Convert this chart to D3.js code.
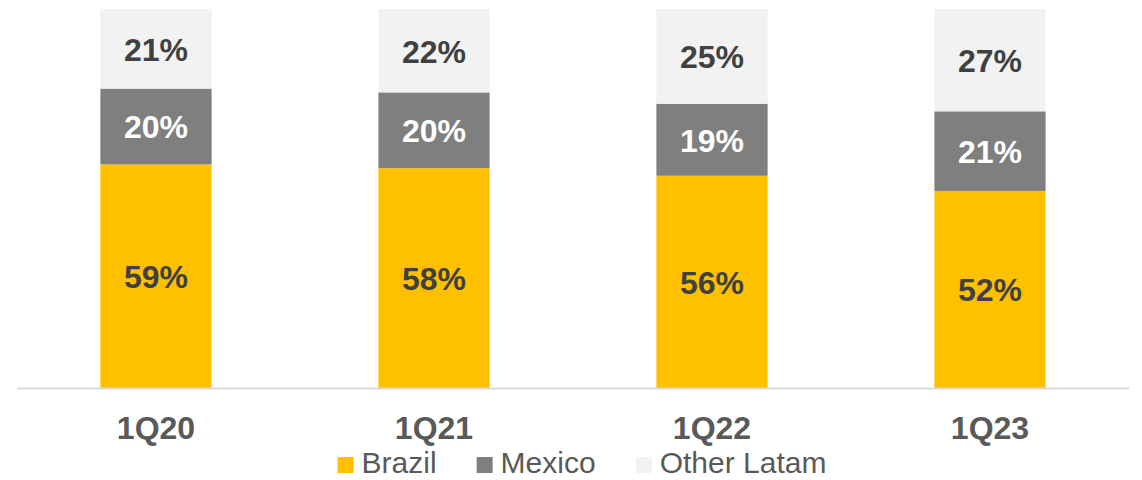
<!DOCTYPE html>
<html>
<head>
<meta charset="utf-8">
<script src="https://cdn.jsdelivr.net/npm/d3@7"></script>
<style>
  html, body { margin: 0; padding: 0; background: #ffffff; }
  svg { display: block; font-family: Arial, "Liberation Sans", sans-serif; }
</style>
</head>
<body>
<svg id="chart" width="1142" height="480"></svg>
<script>
// Revenue mix by region, share of total (%)
const quarters = ["1Q20", "1Q21", "1Q22", "1Q23"];
const brazil = [59, 58, 56, 52];
const mexico = [20, 20, 19, 21];
const otherLatam = [21, 22, 25, 27];

const seriesNames = ["Brazil", "Mexico", "Other Latam"];
const seriesColors = ["#FFC000", "#7F7F7F", "#F2F2F2"];
const labelColors = ["#404040", "#FFFFFF", "#404040"];

const svg = d3.select("#chart");
const margin = { left: 17, right: 13, top: 9, bottom: 92 };
const W = 1142, H = 480;

const rows = quarters.map((q, i) => ({
  quarter: q,
  "Brazil": brazil[i],
  "Mexico": mexico[i],
  "Other Latam": otherLatam[i]
}));

const stacked = d3.stack().keys(seriesNames)(rows);

const x = d3.scaleBand()
  .domain(quarters)
  .range([margin.left, W - margin.right])
  .paddingInner(0.6)
  .paddingOuter(0.3);

const y = d3.scaleLinear()
  .domain([0, 100])
  .range([H - margin.bottom, margin.top]);

// stacked segments
const layers = svg.append("g")
  .selectAll("g")
  .data(stacked)
  .join("g")
  .attr("fill", (d, i) => seriesColors[i]);

layers.selectAll("rect")
  .data(d => d)
  .join("rect")
  .attr("x", d => x(d.data.quarter))
  .attr("width", x.bandwidth())
  .attr("y", d => y(d[1]))
  .attr("height", d => y(d[0]) - y(d[1]));

// value labels centred in each segment
svg.append("g")
  .selectAll("g")
  .data(stacked)
  .join("g")
  .attr("fill", (d, i) => labelColors[i])
  .selectAll("text")
  .data(d => d)
  .join("text")
  .attr("x", d => x(d.data.quarter) + x.bandwidth() / 2)
  .attr("y", d => (y(d[0]) + y(d[1])) / 2 + 12)
  .attr("text-anchor", "middle")
  .style("font-size", "32px")
  .style("font-weight", "bold")
  .text(d => (d[1] - d[0]) + "%");

// category axis
const xAxis = svg.append("g")
  .attr("transform", `translate(0,${H - margin.bottom})`)
  .call(d3.axisBottom(x).tickSize(0).tickPadding(0));
xAxis.select(".domain")
  .attr("stroke", "#D9D9D9")
  .attr("stroke-width", 2);
xAxis.selectAll(".tick text")
  .attr("dy", null)
  .attr("y", 51)
  .attr("fill", "#595959")
  .style("font-family", "Arial, 'Liberation Sans', sans-serif")
  .style("font-size", "32px")
  .style("font-weight", "bold");

// legend
const legend = svg.append("g").attr("class", "legend");
let cursor = 0;
seriesNames.forEach((name, i) => {
  const item = legend.append("g").attr("transform", `translate(${cursor},0)`);
  item.append("rect")
    .attr("x", 0).attr("y", -16)
    .attr("width", 16).attr("height", 16)
    .attr("fill", seriesColors[i]);
  const t = item.append("text")
    .attr("x", 24).attr("y", 0)
    .attr("fill", "#595959")
    .style("font-size", "30px")
    .text(name);
  cursor += 24 + t.node().getComputedTextLength() + 40;
});
const bbox = legend.node().getBBox();
legend.attr("transform", `translate(${582 - (bbox.x + bbox.width / 2)},473)`);
</script>
</body>
</html>
